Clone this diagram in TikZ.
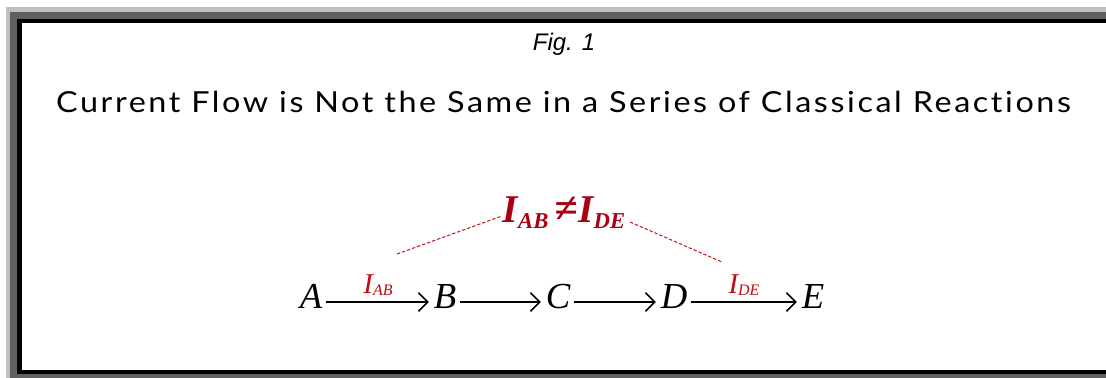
\documentclass[tikz,border=0pt]{standalone}
\usepackage{fontspec}
\setmainfont{Liberation Serif}
\newfontfamily\figfont{Liberation Sans}
\newfontfamily\titlefont[LetterSpace=8,Ligatures={NoCommon,NoRare,NoContextual}]{Lato}
\usetikzlibrary{arrows.meta}
\definecolor{lgray}{RGB}{192,192,192}
\definecolor{dgray}{RGB}{96,96,96}
\definecolor{eqred}{RGB}{170,0,20}
\definecolor{lblred}{RGB}{192,10,20}
\definecolor{dashred}{RGB}{200,30,40}
\tikzset{
  letter/.style={anchor=base, inner sep=0pt, font=\fontsize{27.5pt}{28pt}\selectfont\itshape},
  arr/.style={line width=1.1pt, -{Straight Barb[length=7pt,width=14pt,line width=1.2pt]}},
  lbl/.style={anchor=base, inner sep=0pt, text=lblred},
  dashline/.style={dashred, line width=0.8pt, dash pattern=on 2.5pt off 1.5pt}
}
\begin{document}
\begin{tikzpicture}[x=0.75pt,y=-0.75pt]
\useasboundingbox (0,0) rectangle (1106,378);
\begin{scope}
\clip (0,0) rectangle (1106,378);
\fill[white] (0,0) rectangle (1106,378);
\fill[lgray] (6,7) rectangle (1120,400);
\fill[dgray] (10,12) rectangle (1120,400);
\fill[black] (17,19) rectangle (1120,374);
\fill[white] (22,23) rectangle (1120,370);
\end{scope}
\node[anchor=base, inner sep=0pt, font=\figfont\fontsize{18pt}{19pt}\selectfont\itshape] (fig) at (564,51) {Fig. 1};
\node[anchor=base, inner sep=0pt] (title) at (563.5,112)
  {\resizebox{761pt}{16pt}{\titlefont Current Flow is Not the Same in a Series of Classical Reactions}};
% letters
\node[letter] (A) at (311,308) {A};
\node[letter] (B) at (445,308) {B};
\node[letter] (C) at (558,308) {C};
\node[letter] (D) at (674,308) {D};
\node[letter] (E) at (813,308) {E};
\coordinate (ay) at (0,302);
\draw[arr] ([xshift=2.5pt]A.east |- ay) -- ([xshift=-3.5pt]B.west |- ay);
\draw[arr] ([xshift=2.5pt]B.east |- ay) -- ([xshift=-3.5pt]C.west |- ay);
\draw[arr] ([xshift=2.5pt]C.east |- ay) -- ([xshift=-3.5pt]D.west |- ay);
\draw[arr] ([xshift=2.5pt]D.east |- ay) -- ([xshift=-3.5pt]E.west |- ay);
% small labels
\node[lbl] (lab) at (378,293) {\fontsize{21.5pt}{22pt}\selectfont\itshape I\raisebox{-1.5pt}{\fontsize{12pt}{13pt}\selectfont AB}};
\node[lbl] (lde) at (744,293) {\fontsize{21.5pt}{22pt}\selectfont\itshape I\raisebox{-1.5pt}{\fontsize{12pt}{13pt}\selectfont DE}};
% big equation
\node[anchor=base, inner sep=0pt, text=eqred, font=\bfseries\itshape] (eq) at (564,222)
  {\fontsize{29.5pt}{30pt}\selectfont I\raisebox{-4.5pt}{\fontsize{17pt}{18pt}\selectfont AB}\,{\fontsize{32pt}{32pt}\selectfont ≠}I\raisebox{-4.5pt}{\fontsize{17pt}{18pt}\selectfont DE}};
\coordinate (l1) at (397,254);
\coordinate (r1) at (722,262);
\coordinate (eqL) at (502,216);
\coordinate (eqR) at (630,222);
\draw[dashline] (l1) -- (eqL);
\draw[dashline] (eqR) -- (r1);
\end{tikzpicture}
\end{document}
